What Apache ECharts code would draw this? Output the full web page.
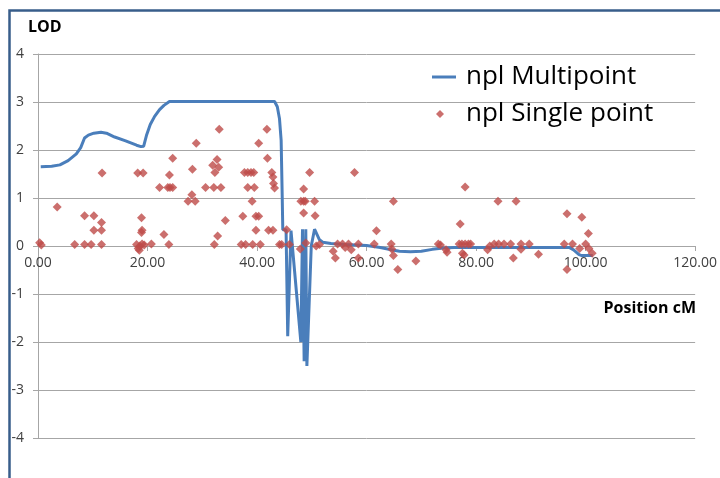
<!DOCTYPE html>
<html><head><meta charset="utf-8">
<script src="https://cdn.jsdelivr.net/npm/echarts@6/dist/echarts.min.js"></script>
<style>html,body{margin:0;padding:0;background:#fff}#c{width:720px;height:478px}</style>
</head><body><div id="c"></div>
<script>
var xTicks = [0, 20, 40, 60, 80, 100, 120];
var yTicks = [-4, -3, -2, -1, 0, 1, 2, 3, 4];

var multiX = [0.5, 2.5, 4, 5.5, 7, 7.8, 8.5, 9.2, 10.2, 11.5, 12.5, 14, 16, 18, 18.8, 19.3, 19.8, 20.5, 21.3, 22.2, 23, 24,
  43.2, 43.7, 44.1, 44.4, 44.6, 44.7, 45.3, 45.6, 46.2, 48.0, 48.3, 48.6, 48.9, 49.1, 49.9, 50.5, 51.4,
  52, 53.5, 56, 60, 62.5, 64.5, 66, 68, 70, 72, 74, 76, 97, 97.8, 98.8, 99.3, 101.3];
var multiY = [1.65, 1.66, 1.69, 1.78, 1.92, 2.05, 2.25, 2.31, 2.35, 2.37, 2.35, 2.27, 2.19, 2.10, 2.07, 2.08, 2.30, 2.53, 2.70, 2.84, 2.93, 3.01,
  3.01, 2.90, 2.65, 2.20, 1.00, 0.34, 0.34, -1.88, 0.32, -2.0, 0.35, -2.4, 0.35, -2.5, 0.0, 0.35, 0.13,
  0.08, 0.05, 0.03, 0.01, -0.03, -0.08, -0.11, -0.12, -0.11, -0.07, -0.04, -0.03, -0.03, -0.08, -0.18, -0.2, -0.2];

var singleX = [0.3, 0.6, 3.5, 6.7, 8.5, 8.5, 9.7, 10.2, 10.2, 11.6, 11.6, 11.6, 11.7, 18.2, 19.2, 18.9, 19.0, 18.9, 18.0, 18.3,
  18.6, 19.0, 19.4, 18.5, 20.7, 22.2, 23.0, 23.7, 24.1, 24.6, 24.0, 23.9, 24.6, 27.4, 28.7, 28.1, 28.2, 28.9, 30.6, 32.1,
  33.4, 31.9, 32.3, 32.7, 33.0, 33.1, 32.2, 32.8, 34.2, 37.1, 37.9, 39.2, 40.6, 37.4, 37.7, 38.3, 38.9, 39.4, 38.3, 39.5,
  39.1, 39.8, 40.3, 39.8, 40.3, 41.8, 41.9, 42.1, 42.9, 42.7, 42.9, 43.0, 43.2, 44.1, 44.5, 45.4, 45.9, 49.6, 48.5, 48.0,
  48.5, 48.8, 50.5, 48.5, 50.6, 47.9, 48.9, 50.8, 51.4, 53.9, 54.3, 54.7, 55.6, 56.7, 56.1, 57.8, 57.2, 58.5, 58.5, 61.4,
  61.8, 64.5, 64.6, 64.9, 64.9, 65.7, 69.0, 73.1, 73.5, 74.7, 74.5, 77.1, 78.0, 76.9, 77.4, 78.0, 78.6, 79.0, 77.5, 77.8,
  82.1, 82.5, 83.3, 84.1, 85.1, 84.0, 86.3, 86.8, 87.3, 88.2, 88.2, 89.7, 91.4, 96.1, 96.6, 96.6, 97.6, 98.9, 99.3, 100.0,
  100.5, 100.6, 101.2];
var singleY = [0.07, 0.02, 0.81, 0.03, 0.63, 0.03, 0.03, 0.63, 0.33, 0.49, 0.33, 0.03, 1.52, 1.52, 1.52, 0.59, 0.33, 0.28, 0.03, -0.05,
  0.0, 0.04, 0.02, -0.09, 0.04, 1.22, 0.24, 1.22, 1.22, 1.22, 1.48, 0.03, 1.83, 0.93, 0.93, 1.07, 1.6, 2.14, 1.22, 1.22,
  1.22, 1.68, 1.53, 1.8, 1.64, 2.43, 0.03, 0.21, 0.53, 0.03, 0.03, 0.03, 0.03, 0.62, 1.53, 1.53, 1.53, 1.53, 1.22, 1.22,
  0.93, 0.62, 0.62, 0.33, 2.14, 2.43, 1.83, 0.33, 0.33, 1.53, 1.44, 1.3, 1.21, 0.03, 0.03, 0.34, 0.03, 1.53, 1.19, 0.93,
  0.93, 0.93, 0.93, 0.69, 0.63, -0.06, 0.06, 0.0, 0.03, -0.11, -0.25, 0.04, 0.04, 0.04, -0.03, 1.53, -0.08, 0.04, -0.25, 0.04,
  0.32, 0.04, -0.06, -0.2, 0.93, -0.49, -0.31, 0.04, 0.02, -0.13, -0.08, 0.46, 1.23, 0.04, 0.04, 0.04, 0.04, 0.04, -0.15, -0.19,
  -0.08, 0.0, 0.04, 0.04, 0.04, 0.93, 0.04, -0.25, 0.93, 0.04, -0.07, 0.04, -0.17, 0.04, 0.67, -0.49, 0.04, -0.05, 0.6, 0.04,
  0.26, -0.05, -0.15];

function zip(a, b) { return a.map(function (v, i) { return [v, b[i]]; }); }

var FONT = 'Open Sans';
var chart = echarts.init(document.getElementById('c'), null, { renderer: 'canvas' });
chart.setOption({
  animation: false,
  backgroundColor: '#ffffff',
  grid: { left: 38, right: 24, top: 54, bottom: 40, containLabel: false },
  xAxis: {
    type: 'value', min: xTicks[0], max: xTicks[xTicks.length - 1], interval: 20,
    position: 'bottom', offset: -192,
    axisLine: { onZero: false, lineStyle: { color: '#a6a6a6', width: 1 } },
    axisTick: { show: true, length: 5, lineStyle: { color: '#a6a6a6' } },
    splitLine: { show: false },
    axisLabel: { color: '#404040', fontFamily: FONT, fontSize: 14, margin: 10,
      formatter: function (v) { return v.toFixed(2); } }
  },
  yAxis: {
    type: 'value', min: yTicks[0], max: yTicks[yTicks.length - 1], interval: 1,
    axisLine: { show: true, onZero: false, lineStyle: { color: '#a6a6a6', width: 1 } },
    axisTick: { show: true, length: 5, lineStyle: { color: '#a6a6a6' } },
    splitLine: { show: true, lineStyle: { color: '#a6a6a6', width: 1 } },
    axisLabel: { color: '#404040', fontFamily: FONT, fontSize: 14, margin: 14 }
  },
  legend: [
    { data: [{ name: 'npl Multipoint', icon: 'rect' }], left: 432, top: 64, padding: 0, itemWidth: 24, itemHeight: 3,
      textStyle: { fontFamily: FONT, fontSize: 26, color: '#000', padding: [0, 0, 0, 5] } },
    { data: [{ name: 'npl Single point', icon: 'diamond' }], left: 436, top: 101, padding: 0, itemWidth: 8, itemHeight: 8,
      textStyle: { fontFamily: FONT, fontSize: 26, color: '#000', padding: [0, 0, 0, 17] } }
  ],
  graphic: [
    { type: 'rect', left: 7, top: 8, shape: { width: 760, height: 520 }, style: { fill: 'none', stroke: '#385d8a', lineWidth: 2.5 }, silent: true },
    { type: 'text', left: 28, top: 19, style: { text: 'LOD', fontFamily: FONT, fontSize: 16, fontWeight: 'bold', fill: '#000' } },
    { type: 'text', right: 24, top: 300, style: { text: 'Position cM', fontFamily: FONT, fontSize: 16, fontWeight: 'bold', fill: '#000' } }
  ],
  series: [
    { name: 'npl Multipoint', type: 'line', data: zip(multiX, multiY), showSymbol: false, symbol: 'none',
      lineStyle: { color: '#4a7ebb', width: 3 }, itemStyle: { color: '#4a7ebb' }, z: 2 },
    { name: 'npl Single point', type: 'scatter', data: zip(singleX, singleY), symbol: 'diamond', symbolSize: 9,
      itemStyle: { color: '#be4b48' }, z: 3 }
  ]
});
</script></body></html>
